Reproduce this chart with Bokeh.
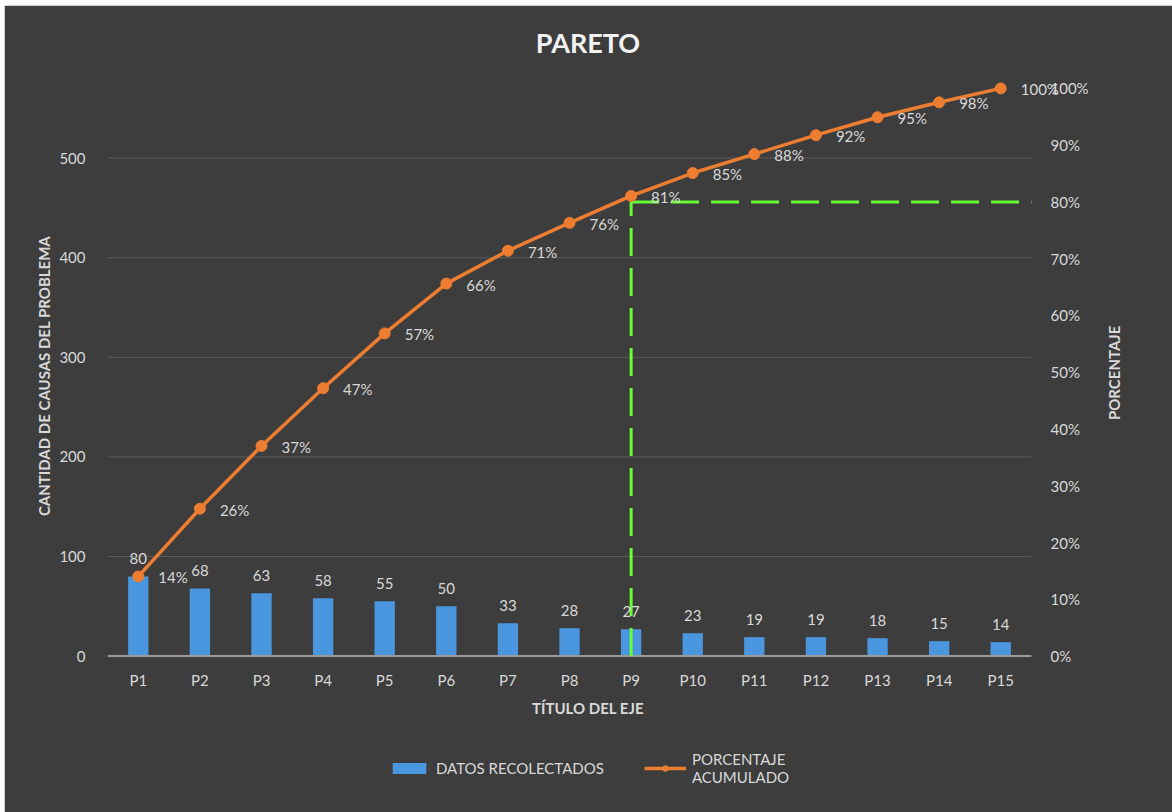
import math
from bokeh.plotting import figure
from bokeh.models import (Range1d, LinearAxis, FixedTicker, NumeralTickFormatter,
                          ColumnDataSource, LabelSet, Legend, LegendItem)
from bokeh.core.properties import value
from bokeh.embed import file_html
from bokeh.resources import INLINE

categories = ["P1", "P2", "P3", "P4", "P5", "P6", "P7", "P8", "P9", "P10",
              "P11", "P12", "P13", "P14", "P15"]
counts = [80, 68, 63, 58, 55, 50, 33, 28, 27, 23, 19, 19, 18, 15, 14]
cum_pct_labels = ["14%", "26%", "37%", "47%", "57%", "66%", "71%", "76%", "81%",
                  "85%", "88%", "92%", "95%", "98%", "100%"]
left_ticks = [0, 100, 200, 300, 400, 500]
right_ticks = [0, 0.1, 0.2, 0.3, 0.4, 0.5, 0.6, 0.7, 0.8, 0.9, 1.0]
threshold = 0.8
threshold_cat = "P9"
left_title = "CANTIDAD DE CAUSAS DEL PROBLEMA"
right_title = "PORCENTAJE"

total = sum(counts)
cum = []
s = 0
for c in counts:
    s += c
    cum.append(s)
xs = list(range(len(categories)))
x_lo, x_hi = -0.5, len(categories) - 0.5
thr_x = categories.index(threshold_cat)

FONT = "Lato"
BG = "#3d3d3d"
TXT = "#d9d9d9"
Y_TOP = 600          # headroom above 100%
Y_BOTTOM = -154      # room below the baseline for axis title and legend
X_EXTRA = 0.6        # room at the right for the last data label
LEFT_TITLE_ANCHOR = 422    # vertical titles are anchored at one end
RIGHT_TITLE_ANCHOR = 237

p = figure(x_range=Range1d(x_lo, x_hi + X_EXTRA), y_range=Range1d(Y_BOTTOM, Y_TOP),
           width=1168, height=807, output_backend="svg", toolbar_location=None,
           min_border_left=103, min_border_right=104, min_border_top=53,
           min_border_bottom=3)
p.margin = (5, 0, 0, 4)
p.background_fill_color = BG
p.border_fill_color = BG
p.outline_line_color = BG
p.outline_line_width = 2

p.title.text = "PARETO"
p.title.align = "center"
p.title.text_font = FONT
p.title.text_font_size = "27px"
p.title.text_font_style = "bold"
p.title.text_color = "#f2f2f2"
p.title.offset = 0
p.title.standoff = 0

p.extra_y_ranges = {"pct": Range1d(Y_BOTTOM / total, Y_TOP / total)}

src = ColumnDataSource(dict(x=xs, cat=categories, val=counts, cum=cum,
                            lbl=[str(v) for v in counts], plbl=cum_pct_labels))

# gridlines and baseline (limited to the category span)
p.segment(x0=[x_lo] * (len(left_ticks) - 1), x1=[x_hi] * (len(left_ticks) - 1),
          y0=left_ticks[1:], y1=left_ticks[1:], line_color="#5c5c5c", line_width=1)

bars = p.vbar(x="x", top="val", width=0.33, source=src,
              fill_color="#4a96df", line_color=None)

p.segment(x0=[x_lo], x1=[x_hi], y0=[0], y1=[0], line_color="#9a9a9a", line_width=2)

# threshold lines
p.line(x=[thr_x, thr_x], y=[0, threshold * total],
       line_color="#66ff33", line_width=3, line_dash="28 12")
p.line(x=[thr_x, x_hi], y=[threshold * total, threshold * total],
       line_color="#66ff33", line_width=3, line_dash="28 12")

line = p.line(x="x", y="cum", source=src, line_color="#ed7d31", line_width=3.5)
pts = p.scatter(x="x", y="cum", source=src, size=11, fill_color="#ed7d31",
                line_color="#ed7d31")

p.add_layout(LabelSet(x="x", y="val", text="lbl", source=src, y_offset=12,
                      text_align="center", text_baseline="bottom",
                      text_color=TXT, text_font=value(FONT), text_font_size="15px"))
p.add_layout(LabelSet(x="x", y="cum", text="plbl", source=src, x_offset=20,
                      y_offset=-1, text_align="left", text_baseline="middle",
                      text_color=TXT, text_font=value(FONT), text_font_size="15px"))

# axes
p.grid.visible = False


def style_axis(a, size="15px"):
    a.axis_line_color = None
    a.major_tick_line_color = None
    a.minor_tick_line_color = None
    a.major_label_text_color = TXT
    a.major_label_text_font = FONT
    a.major_label_text_font_size = size


ax = p.yaxis[0]
ax.ticker = FixedTicker(ticks=left_ticks)
style_axis(ax)
ax.major_label_standoff = 16

ax = p.xaxis[0]
ax.fixed_location = 0
ax.ticker = FixedTicker(ticks=xs)
ax.major_label_overrides = {i: c for i, c in zip(xs, categories)}
style_axis(ax)
ax.major_label_standoff = 9
ax.axis_label = "TÍTULO DEL EJE"
ax.axis_label_text_color = TXT
ax.axis_label_text_font = FONT
ax.axis_label_text_font_size = "15px"
ax.axis_label_text_font_style = "bold"
ax.axis_label_standoff = 6

rax = LinearAxis(y_range_name="pct", ticker=FixedTicker(ticks=right_ticks),
                 formatter=NumeralTickFormatter(format="0%"))
style_axis(rax)
rax.major_label_standoff = -24
p.add_layout(rax, "right")

# vertical axis titles, reading bottom-to-top
lt = LinearAxis(ticker=FixedTicker(ticks=[LEFT_TITLE_ANCHOR]),
                major_label_overrides={LEFT_TITLE_ANCHOR: left_title},
                major_label_orientation=math.pi / 2)
style_axis(lt)
lt.major_label_text_font_style = "bold"
lt.major_label_standoff = 6
p.add_layout(lt, "left")

rt = LinearAxis(ticker=FixedTicker(ticks=[RIGHT_TITLE_ANCHOR]),
                major_label_overrides={RIGHT_TITLE_ANCHOR: right_title},
                major_label_orientation=math.pi / 2)
style_axis(rt)
rt.major_label_text_font_style = "bold"
rt.major_label_standoff = 17
p.add_layout(rt, "right")

legend = Legend(items=[LegendItem(label="DATOS RECOLECTADOS", renderers=[bars]),
                       LegendItem(label="PORCENTAJE\nACUMULADO", renderers=[line, pts])],
                orientation="horizontal", location=(281, 23),
                background_fill_alpha=0, border_line_color=None,
                label_text_color=TXT, label_text_font=FONT, label_text_font_size="15px",
                label_text_line_height=1.45,
                glyph_width=42, glyph_height=14, spacing=40, label_standoff=6,
                padding=0, margin=0)
p.add_layout(legend, "center")

open("out.html", "w").write(file_html(p, INLINE))
